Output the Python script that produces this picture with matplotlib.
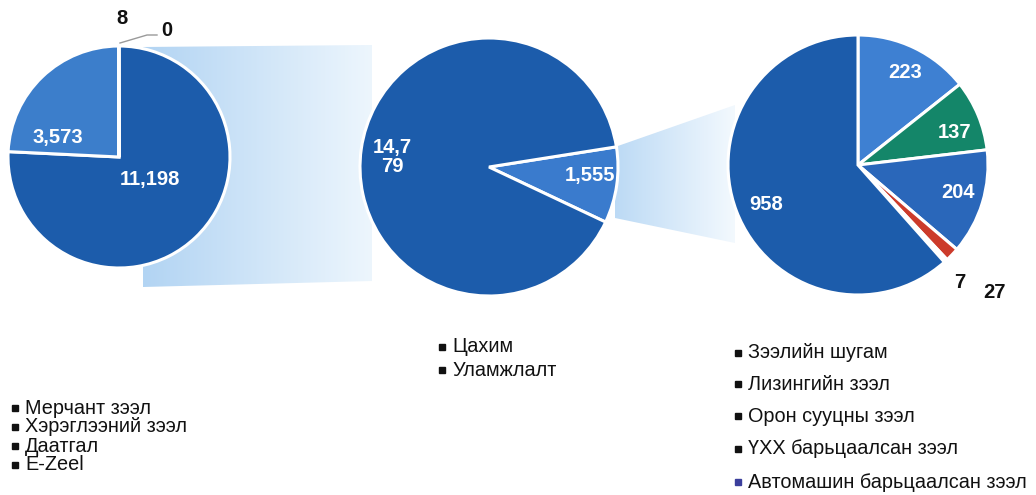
import numpy as np
import matplotlib
matplotlib.use("Agg")
import matplotlib.pyplot as plt
from matplotlib.patches import Polygon
from matplotlib.colors import LinearSegmentedColormap

plt.rcParams['font.family'] = ['Liberation Sans', 'DejaVu Sans']

# --- data ---
left_labels = ['Хэрэглээний зээл', 'Мерчант зээл', 'Даатгал', 'E-Zeel']
left_values = [11198, 3573, 8, 0]
left_text = ['11,198', '3,573', '8', '0']

mid_labels = ['Уламжлалт', 'Цахим']
mid_values = [1555, 14779]
mid_text = ['1,555', '14,7\n79']

right_labels = ['Зээлийн шугам', 'Лизингийн зээл', 'Орон сууцны зээл',
                'ҮХХ барьцаалсан зээл', 'Автомашин барьцаалсан зээл', 'Бусад']
right_values = [223, 137, 204, 27, 7, 958]
right_text = ['223', '137', '204', '27', '7', '958']

legend_left = ['Мерчант зээл', 'Хэрэглээний зээл', 'Даатгал', 'E-Zeel']
legend_mid = ['Цахим', 'Уламжлалт']
legend_right = ['Зээлийн шугам', 'Лизингийн зээл', 'Орон сууцны зээл',
                'ҮХХ барьцаалсан зээл', 'Автомашин барьцаалсан зээл']

W, H = 1036, 495
fig = plt.figure(figsize=(W / 100, H / 100), dpi=100)
ax = fig.add_axes([0, 0, 1, 1])


def py(y):
    # pixel row -> data y
    return H - y


def gradient_poly(pts, c0, c1, z):
    pts = [(x, py(y)) for x, y in pts]
    poly = Polygon(pts, closed=True, facecolor='none', edgecolor='none', zorder=z)
    ax.add_patch(poly)
    xs = [p[0] for p in pts]
    ys = [p[1] for p in pts]
    cmap = LinearSegmentedColormap.from_list('g', [c0, c1])
    grad = np.linspace(0, 1, 256).reshape(1, -1)
    im = ax.imshow(grad, cmap=cmap, extent=[min(xs), max(xs), min(ys), max(ys)],
                   aspect='auto', zorder=z, interpolation='bilinear')
    im.set_clip_path(poly)


# connector shading
gradient_poly([(143, 47), (372, 45), (372, 281), (143, 287)], '#b2d4f3', '#edf6fd', 1)
gradient_poly([(615, 147), (735, 105), (735, 243), (615, 218)], '#bcdaf5', '#f3f9fe', 1)

wp = dict(edgecolor='white', linewidth=2.2)
lab = dict(fontsize=14.5, fontweight='bold', ha='center', va='center', zorder=5)

# left pie
lc, lr = (119, py(157)), 111
ax.pie(left_values, colors=['#1c5cab', '#3c7ecb', '#2e6bbd', '#5a90d6'],
       startangle=90, counterclock=False, center=lc, radius=lr,
       wedgeprops=wp, frame=True)
left_off = [(31, -23), (-61, 19)]
for t, (dx, dy) in zip(left_text[:2], left_off):
    ax.text(lc[0] + dx, lc[1] + dy, t, color='white', **lab)
ax.plot([120, 147, 157], [py(43), py(35), py(35)], color='#9a9a9a', lw=1, zorder=5)
ax.text(122, py(19), left_text[2], color='#111111', **lab)
ax.text(167, py(30), left_text[3], color='#111111', **lab)

# middle pie
mc, mr = (489, py(167)), 129
ax.pie(mid_values, colors=['#3a7bcd', '#1c5cab'], startangle=9, counterclock=False,
       center=mc, radius=mr, wedgeprops=wp, frame=True)
mid_off = [(101, -8), (-97, 10)]
for t, (dx, dy) in zip(mid_text, mid_off):
    ax.text(mc[0] + dx, mc[1] + dy, t, color='white', linespacing=1.0, **lab)

# right pie
rc, rr = (858, py(165)), 130
ax.pie(right_values, colors=['#3e80d2', '#148669', '#2a67ba', '#cc3b2b', '#ffffff', '#1c5cab'],
       startangle=90, counterclock=False, center=rc, radius=rr, wedgeprops=wp, frame=True)
right_off = [(47, 92), (97, 32), (100, -27), (137, -128), (102, -118), (-92, -40)]
right_col = ['white', 'white', 'white', '#111111', '#111111', 'white']
for t, (dx, dy), c in zip(right_text, right_off, right_col):
    ax.text(rc[0] + dx, rc[1] + dy, t, color=c, **lab)

ax.set_xlim(0, W)
ax.set_ylim(0, H)
ax.set_aspect('auto')
ax.axis('off')


def legend(items, x, ys, mcolors, fs=14.3):
    for t, y, mc_ in zip(items, ys, mcolors):
        ax.plot(x, py(y), marker='s', ms=4, color=mc_, zorder=5)
        ax.text(x + 10, py(y), t, fontsize=fs, ha='left', va='center', color='#111111', zorder=5)


legend(legend_left, 15, [408, 427, 446, 465], ['#111111'] * 4)
legend(legend_mid, 442, [347, 370], ['#111111'] * 2)
legend(legend_right, 738, [353, 384, 416, 449, 482], ['#111111'] * 4 + ['#3b3f9c'])

fig.savefig('out.png', dpi=100)
